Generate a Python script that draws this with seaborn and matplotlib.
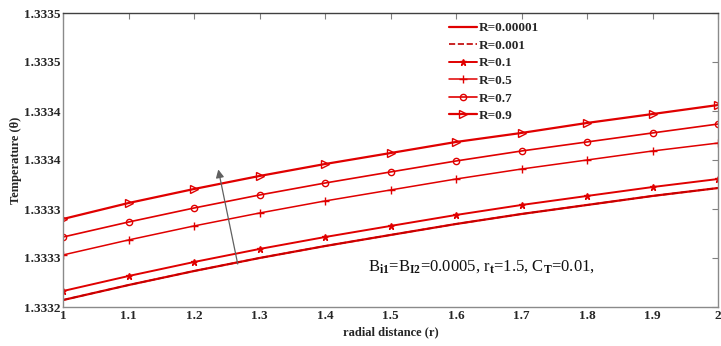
import matplotlib
matplotlib.use("Agg")
import matplotlib.pyplot as plt
import seaborn as sns
import numpy as np
import pandas as pd
from matplotlib.ticker import FixedLocator, FixedFormatter

# ---- data ----
r = [1.0, 1.1, 1.2, 1.3, 1.4, 1.5, 1.6, 1.7, 1.8, 1.9, 2.0]
theta_R00001 = [1.3332071, 1.3332224, 1.3332367, 1.3332500, 1.3332622, 1.3332735,
                1.3332847, 1.3332949, 1.3333041, 1.3333133, 1.3333214]
theta_R0001 = [1.3332071, 1.3332224, 1.3332367, 1.3332500, 1.3332622, 1.3332735,
               1.3332847, 1.3332949, 1.3333041, 1.3333133, 1.3333214]
theta_R01 = [1.3332163, 1.3332316, 1.3332459, 1.3332592, 1.3332714, 1.3332827,
             1.3332939, 1.3333041, 1.3333133, 1.3333224, 1.3333306]
theta_R05 = [1.3332531, 1.3332684, 1.3332827, 1.3332959, 1.3333082, 1.3333194,
             1.3333306, 1.3333408, 1.3333500, 1.3333592, 1.3333673]
theta_R07 = [1.3332714, 1.3332867, 1.3333010, 1.3333143, 1.3333265, 1.3333378,
             1.3333490, 1.3333592, 1.3333684, 1.3333776, 1.3333867]
theta_R09 = [1.3332898, 1.3333061, 1.3333204, 1.3333337, 1.3333459, 1.3333571,
             1.3333684, 1.3333776, 1.3333878, 1.3333969, 1.3334061]
series_labels = ["R=0.00001", "R=0.001", "R=0.1", "R=0.5", "R=0.7", "R=0.9"]

x_ticks = [1.0, 1.1, 1.2, 1.3, 1.4, 1.5, 1.6, 1.7, 1.8, 1.9, 2.0]
x_ticklabels = ["1", "1.1", "1.2", "1.3", "1.4", "1.5", "1.6", "1.7", "1.8", "1.9", "2"]
y_ticks = [1.33320, 1.33325, 1.33330, 1.33335, 1.33340, 1.33345, 1.33350]
y_ticklabels = ["1.3332", "1.3333", "1.3333", "1.3334", "1.3334", "1.3335", "1.3335"]

# ---- style ----
sns.set_style("white")
plt.rcParams["font.family"] = ["Liberation Serif", "DejaVu Serif"]
plt.rcParams["mathtext.fontset"] = "custom"
plt.rcParams["mathtext.rm"] = "Liberation Serif:bold"
plt.rcParams["mathtext.bf"] = "Liberation Serif:bold"
plt.rcParams["mathtext.it"] = "Liberation Serif:bold"

fig = plt.figure(figsize=(7.21, 3.46), dpi=100)
ax = fig.add_axes([63 / 721, 1 - 307 / 346, 655 / 721, 294 / 346])

red = "#e00000"
styles = [
    dict(data=theta_R00001, color=red, lw=1.6, ls="-", marker=None, ms=0, mfc=red),
    dict(data=theta_R0001, color="#c00000", lw=1.2, ls="--", marker=None, ms=0, mfc=red),
    dict(data=theta_R01, color=red, lw=1.4, ls="-", marker="*", ms=5, mfc=red),
    dict(data=theta_R05, color=red, lw=1.1, ls="-", marker="+", ms=6, mfc=red),
    dict(data=theta_R07, color=red, lw=1.2, ls="-", marker="o", ms=4.5, mfc="none"),
    dict(data=theta_R09, color=red, lw=1.6, ls="-", marker=">", ms=5.5, mfc="none"),
]
for lab, st in zip(series_labels, styles):
    df = pd.DataFrame({"r": r, "theta": st["data"]})
    kw = dict(marker=st["marker"], markersize=st["ms"], markerfacecolor=st["mfc"],
              markeredgecolor=st["color"], markeredgewidth=1.0) if st["marker"] else {}
    sns.lineplot(data=df, x="r", y="theta", ax=ax, color=st["color"], linewidth=st["lw"],
                 linestyle=st["ls"], label=lab, **kw)

ax.set_xlim(1.0, 2.0)
ax.set_ylim(1.33320, 1.33350)
ax.xaxis.set_major_locator(FixedLocator(x_ticks))
ax.xaxis.set_major_formatter(FixedFormatter(x_ticklabels))
ax.yaxis.set_major_locator(FixedLocator(y_ticks))
ax.yaxis.set_major_formatter(FixedFormatter(y_ticklabels))
ax.tick_params(direction="in", length=4, width=0.8, color="#808080",
               top=True, right=True, labelsize=9.5, pad=2)
for lbl in ax.get_xticklabels() + ax.get_yticklabels():
    lbl.set_fontweight("bold")
for side in ["left", "bottom", "right"]:
    ax.spines[side].set_color("#8a8a8a")
    ax.spines[side].set_linewidth(1.0)
ax.spines["top"].set_color("#404040")
ax.spines["top"].set_linewidth(1.0)

ax.set_xlabel("radial distance (r)", fontsize=9, fontweight="bold", labelpad=3)
ax.set_ylabel("Temperature (θ)", fontsize=9, fontweight="bold", labelpad=1)

leg = ax.legend(loc="upper left", bbox_to_anchor=(0.575, 1.0), frameon=False,
                prop={"family": "Liberation Serif", "weight": "bold", "size": 9.5},
                handlelength=2.1, handletextpad=0.15, labelspacing=0.4,
                borderaxespad=0.3)

ax.annotate("", xy=(0.2362, 0.477), xytext=(0.2676, 0.137), xycoords="axes fraction",
            textcoords="axes fraction",
            arrowprops=dict(arrowstyle="-|>", color="#606060", lw=0.9,
                            mutation_scale=12))

ax.text(0.466, 0.125,
        r"B$_{\mathbf{i1}}$=B$_{\mathbf{I2}}$=0.0005, r$_{\mathbf{t}}$=1.5, C$_{\mathbf{T}}$=0.01,",
        transform=ax.transAxes, fontsize=12, color="#111111")

fig.savefig("out.png", dpi=100)
